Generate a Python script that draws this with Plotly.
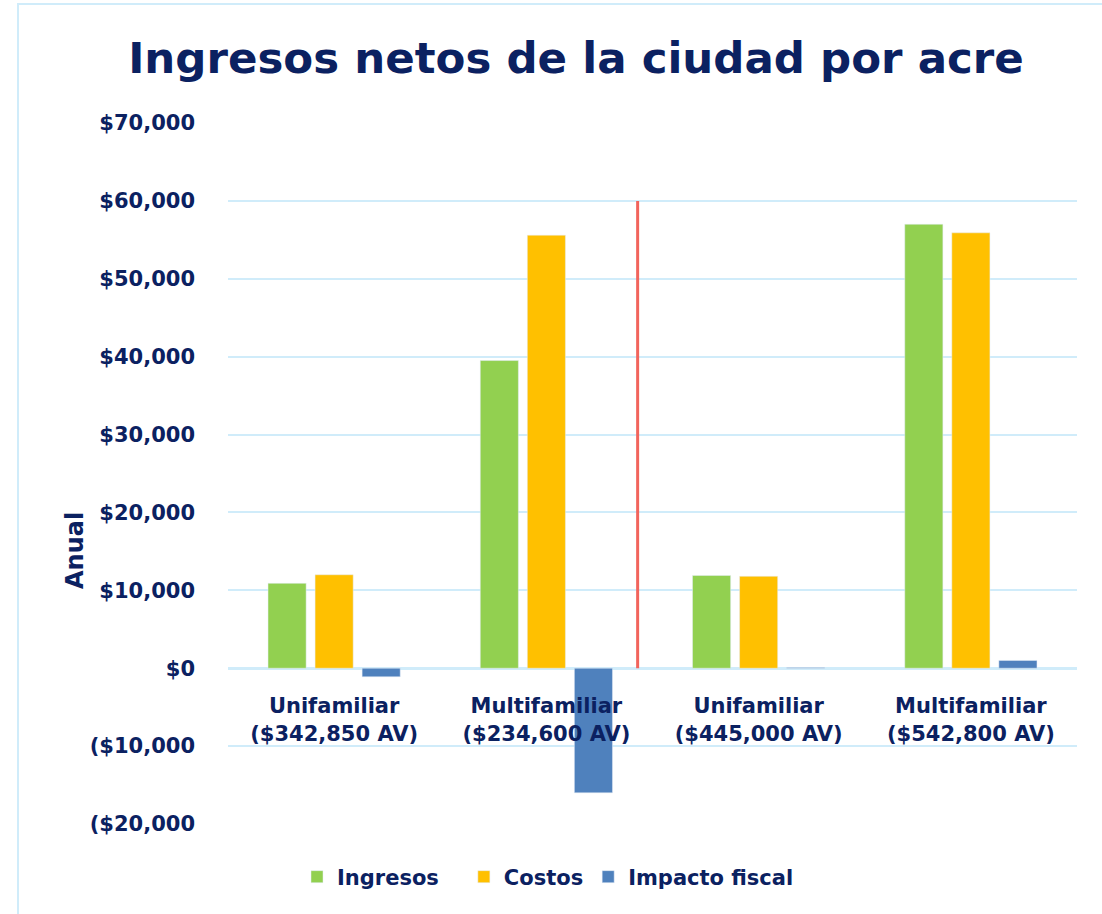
import plotly.graph_objects as go

categories = ["Unifamiliar<br>($342,850 AV)", "Multifamiliar<br>($234,600 AV)",
              "Unifamiliar<br>($445,000 AV)", "Multifamiliar<br>($542,800 AV)"]
ingresos = [10900, 39500, 11900, 57000]
costos = [12000, 55600, 11800, 55900]
impacto = [-1100, -16000, 100, 1000]
tick_vals = [-20000, -10000, 0, 10000, 20000, 30000, 40000, 50000, 60000, 70000]
tick_text = ["($20,000", "($10,000", "$0", "$10,000", "$20,000", "$30,000",
             "$40,000", "$50,000", "$60,000", "$70,000"]
divider_at = 1.43
divider_top = 60000

NAVY = "#0B2161"
GRID = "#D0ECFA"
FONT = "DejaVu Sans"

fig = go.Figure()
fig.add_bar(name="<b>Ingresos</b>&nbsp;&nbsp;&nbsp;", x=categories, y=ingresos, marker_color="#92D050")
fig.add_bar(name="<b>Costos</b>", x=categories, y=costos, marker_color="#FFC000")
fig.add_bar(name="<b>Impacto fiscal</b>", x=categories, y=impacto, marker_color="#4F81BD")

pos0 = (0 - (-20000)) / 90000.0

fig.update_layout(
    width=1102, height=914,
    margin=dict(l=228, r=25, t=123, b=90),
    paper_bgcolor="white", plot_bgcolor="white",
    barmode="group", bargap=0.335, bargroupgap=0.19,
    font=dict(family=FONT, color=NAVY, size=21),
    title=dict(text="<b>Ingresos netos de la ciudad por acre</b>",
               x=576/1102, xanchor="center", xref="container",
               y=1-58/914, yanchor="middle", yref="container",
               font=dict(family=FONT, size=43.5, color=NAVY)),
    showlegend=True,
    legend=dict(orientation="h", x=(548-228)/849, xanchor="center",
                y=(824-877)/701, yanchor="middle",
                font=dict(family=FONT, size=21, color=NAVY),
                itemwidth=30, traceorder="normal"),
    xaxis=dict(type="category", anchor="free", position=pos0,
               showline=False, showgrid=False, ticks="", ticklabelstandoff=23,
               tickvals=categories, ticktext=[f"<b>{c}</b>" for c in categories],
               tickfont=dict(family=FONT, size=21, color=NAVY)),
    yaxis=dict(range=[-20000, 70000], tickvals=tick_vals,
               ticktext=[f"<b>{t}</b>" for t in tick_text],
               showgrid=True, gridcolor=GRID, gridwidth=2,
               zeroline=True, zerolinecolor=GRID, zerolinewidth=3,
               showline=False, ticks="", ticklabelstandoff=32,
               tickfont=dict(family=FONT, size=21, color=NAVY)),
)

fig.add_shape(type="line", xref="x", yref="y", x0=divider_at, x1=divider_at,
              y0=0, y1=divider_top, line=dict(color="#F2645C", width=3))

# outer frame
fig.add_shape(type="rect", xref="paper", yref="paper",
              x0=(18-228)/849, x1=(1120-228)/849,
              y0=(824-930)/701, y1=(824-4)/701,
              line=dict(color=GRID, width=2), fillcolor="rgba(0,0,0,0)", layer="below")

fig.add_annotation(text="<b>Anual</b>", xref="paper", yref="paper",
                   x=(75-228)/849, y=(824-551)/701, textangle=-90,
                   showarrow=False, font=dict(family=FONT, size=24, color=NAVY),
                   xanchor="center", yanchor="middle")

fig.write_html("out.html", config={"displayModeBar": False},
               post_script="document.body.style.margin='0';")
